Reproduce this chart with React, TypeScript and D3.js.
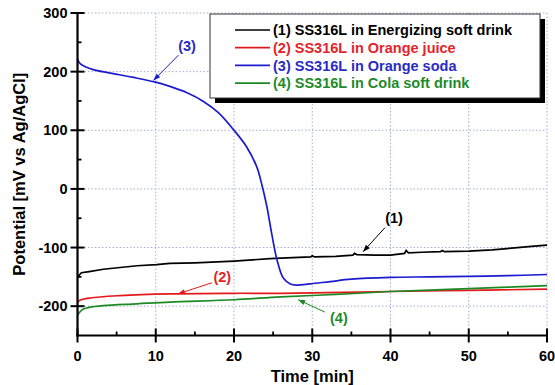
import React from "react";
import * as d3 from "d3";

// time [min] / potential [mV vs Ag/AgCl]
const t1 = [0, 0.15, 0.5, 1.5, 3.3, 7.6, 10.1, 11.8, 15, 20, 24.6, 26, 29.8, 30, 30.3, 33, 35.2, 35.4, 35.7, 38, 40, 41.8, 42, 42.3, 44, 46.4, 46.6, 46.9, 50, 53, 55.5, 58, 60];
const v1 = [-152, -148, -143, -141, -137, -131, -129, -127, -126, -123, -119, -118, -116, -114, -116, -115, -113, -110, -112, -113, -113, -110, -105, -109, -108, -107, -105, -107, -106, -104, -101, -98, -96];

const t2 = [0, 0.3, 1.6, 5.4, 11.8, 20, 26, 40, 50, 60];
const v2 = [-194, -190, -186, -182, -179, -178, -178, -175, -173, -171];

const t3 = [0, 0.3, 1, 2, 4, 7, 10, 12, 14, 16, 18, 20, 21.6, 22.9, 23.6, 24.2, 24.8, 25.5, 26.3, 27.2, 28, 29.7, 32.3, 35, 40, 45, 50, 55, 60];
const v3 = [222, 214, 208.5, 203.5, 198, 190.5, 182, 174, 164, 150, 130, 100, 72, 38, 5, -30, -75, -121, -152, -162, -164, -162, -158, -154, -151, -150, -149, -148, -146];

const t4 = [0, 0.3, 0.75, 1.5, 3.3, 7.6, 11.8, 20, 26, 33, 40, 50, 60];
const v4 = [-216, -210, -205, -202, -199, -196, -193, -189, -184, -180, -175, -170, -165];

const seriesNames = [
  "(1) SS316L in Energizing soft drink",
  "(2) SS316L in Orange juice",
  "(3) SS316L in Orange soda",
  "(4) SS316L in Cola soft drink",
];
const lineColors = ["#000000", "#e31a1c", "#1c1ccf", "#1b8a23"];
const textColors = ["#000000", "#e3242b", "#2a2ac4", "#1f8a2a"];

const xTicks = [0, 10, 20, 30, 40, 50, 60];
const xMinor = [5, 15, 25, 35, 45, 55];
const yTicks = [-200, -100, 0, 100, 200, 300];
const yMinor = [-150, -50, 50, 150, 250];

// callouts: label, label pos, arrow tail, arrow tip (data units)
const callouts = [
  { label: "(1)", series: 0, at: [40.45, -49], tail: [39.3, -66], tip: [36.5, -107] },
  { label: "(2)", series: 1, at: [18.5, -150], tail: [17.2, -160], tip: [12.85, -179] },
  { label: "(3)", series: 2, at: [14.0, 244], tail: [12.9, 228], tip: [9.7, 185] },
  { label: "(4)", series: 3, at: [33.4, -220], tail: [31.6, -210], tip: [28.2, -189] },
];

const W = 555;
const H = 385;
const FONT = "'Liberation Sans', Arial, sans-serif";

export default function App() {
  const x = d3.scaleLinear().domain([0, 60]).range([77.5, 547]);
  const y = d3.scaleLinear().domain([-250, 300]).range([335.5, 13]);

  const series = [
    { t: t1, v: v1, curve: d3.curveLinear },
    { t: t2, v: v2, curve: d3.curveCatmullRom.alpha(0.5) },
    { t: t3, v: v3, curve: d3.curveCatmullRom.alpha(0.5) },
    { t: t4, v: v4, curve: d3.curveCatmullRom.alpha(0.5) },
  ];

  const x0 = x(0);
  const yb = y(-250);
  const grid = "#a9acd6";

  function arrowHead(tail: number[], tip: number[]) {
    const ax = x(tip[0]), ay = y(tip[1]);
    const bx = x(tail[0]), by = y(tail[1]);
    const ang = Math.atan2(ay - by, ax - bx);
    const len = 7, half = 2.6;
    const px = ax - len * Math.cos(ang), py = ay - len * Math.sin(ang);
    const nx = -Math.sin(ang) * half, ny = Math.cos(ang) * half;
    return `${ax},${ay} ${px + nx},${py + ny} ${px - nx},${py - ny}`;
  }

  const legendX = 210, legendY = 14, legendW = 330, legendH = 84;

  return (
    <div style={{ position: "fixed", left: 0, top: 0 }}>
      <svg width={W} height={H} style={{ display: "block", background: "#fff" }} fontFamily={FONT}>
        {/* grid */}
        {xTicks.filter((d) => d > 0).map((d) => (
          <line key={"gx" + d} x1={x(d)} x2={x(d)} y1={y(300)} y2={yb} stroke={grid} strokeWidth={1} strokeDasharray="1.5,2" />
        ))}
        {yTicks.map((d) => (
          <line key={"gy" + d} x1={x0} x2={x(60)} y1={y(d)} y2={y(d)} stroke={grid} strokeWidth={1} strokeDasharray="1.5,2" />
        ))}

        {/* data lines */}
        {series.map((s, i) => {
          const line = d3
            .line<number>()
            .x((_, k) => x(s.t[k]))
            .y((d) => y(d))
            .curve(s.curve);
          return <path key={i} d={line(s.v) || ""} fill="none" stroke={lineColors[i]} strokeWidth={1.7} />;
        })}

        {/* axes */}
        <line x1={x0} x2={x0} y1={y(300) - 1} y2={yb + 1} stroke="#000" strokeWidth={2.2} />
        <line x1={x0 - 1} x2={x(60) + 1} y1={yb} y2={yb} stroke="#000" strokeWidth={2.2} />
        {yTicks.map((d) => (
          <g key={"yt" + d}>
            <line x1={x0 - 7} x2={x0 + 7} y1={y(d)} y2={y(d)} stroke="#000" strokeWidth={2} />
            <text x={x0 - 10} y={y(d)} dy="0.36em" textAnchor="end" fontSize={14.5} fontWeight="bold">
              {d}
            </text>
          </g>
        ))}
        {yMinor.map((d) => (
          <line key={"ym" + d} x1={x0} x2={x0 + 4} y1={y(d)} y2={y(d)} stroke="#000" strokeWidth={1.8} />
        ))}
        {xTicks.map((d) => (
          <g key={"xt" + d}>
            <line x1={x(d)} x2={x(d)} y1={yb - 7} y2={yb + 7} stroke="#000" strokeWidth={2} />
            <text x={x(d)} y={yb + 25} textAnchor="middle" fontSize={14.5} fontWeight="bold">
              {d}
            </text>
          </g>
        ))}
        {xMinor.map((d) => (
          <line key={"xm" + d} x1={x(d)} x2={x(d)} y1={yb} y2={yb - 4} stroke="#000" strokeWidth={1.8} />
        ))}

        {/* axis titles */}
        <text x={(x0 + x(60)) / 2} y={382} textAnchor="middle" fontSize={16.5} fontWeight="bold">
          Time [min]
        </text>
        <text
          transform={`translate(25,${(y(300) + yb) / 2}) rotate(-90)`}
          textAnchor="middle"
          fontSize={16.5}
          fontWeight="bold"
        >
          Potential [mV vs Ag/AgCl]
        </text>

        {/* callouts */}
        {callouts.map((c) => (
          <g key={c.label}>
            <line
              x1={x(c.tail[0])}
              y1={y(c.tail[1])}
              x2={x(c.tip[0])}
              y2={y(c.tip[1])}
              stroke={lineColors[c.series]}
              strokeWidth={1}
            />
            <polygon points={arrowHead(c.tail, c.tip)} fill={lineColors[c.series]} />
            <text x={x(c.at[0])} y={y(c.at[1])} dy="0.36em" textAnchor="middle" fontSize={14.5} fontWeight="bold" fill={textColors[c.series]}>
              {c.label}
            </text>
          </g>
        ))}

        {/* legend */}
        <rect x={legendX + 5} y={legendY + 5} width={legendW} height={legendH} fill="#000" />
        <rect x={legendX} y={legendY} width={legendW} height={legendH} fill="#fff" stroke="#333" strokeWidth={1} />
        {seriesNames.map((name, i) => {
          const ry = legendY + 16 + i * 17.7;
          return (
            <g key={name}>
              <line x1={235} x2={270} y1={ry} y2={ry} stroke={lineColors[i]} strokeWidth={1.7} />
              <text x={273} y={ry} dy="0.36em" fontSize={14.5} fontWeight="bold" fill={textColors[i]}>
                {name}
              </text>
            </g>
          );
        })}
      </svg>
    </div>
  );
}
